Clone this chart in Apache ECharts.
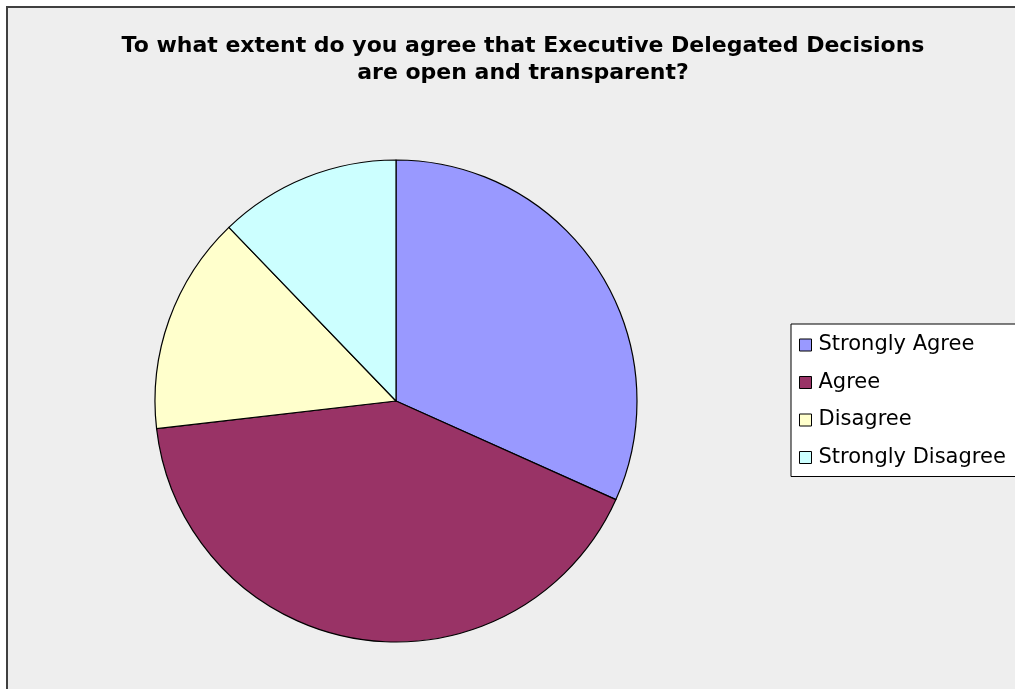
<!DOCTYPE html>
<html>
<head>
<meta charset="utf-8">
<script src="https://cdn.jsdelivr.net/npm/echarts@6/dist/echarts.min.js"></script>
<style>
  html, body { margin: 0; padding: 0; background: #ffffff; }
  #chart { width: 1015px; height: 689px; }
</style>
</head>
<body>
<div id="chart"></div>
<script>
// Survey responses
const categories = ['Strongly Agree', 'Agree', 'Disagree', 'Strongly Disagree'];
const counts = [26, 34, 12, 10];
const sliceColors = ['#9999FF', '#993366', '#FFFFCC', '#CCFFFF'];
const titleText = 'To what extent do you agree that Executive Delegated Decisions\nare open and transparent?';

const chart = echarts.init(document.getElementById('chart'), null, { renderer: 'canvas' });

chart.setOption({
  animation: false,
  backgroundColor: '#ffffff',
  graphic: [
    {
      // chart area panel
      type: 'rect',
      z: -10,
      shape: { x: 7, y: 7, width: 1020, height: 700 },
      style: { fill: '#eeeeee', stroke: '#404040', lineWidth: 2 }
    }
  ],
  title: {
    text: titleText,
    left: 518,
    textAlign: 'center',
    top: 28,
    textStyle: {
      fontFamily: 'DejaVu Sans, Arial, sans-serif',
      fontWeight: 'bold',
      fontSize: 22,
      color: '#000000',
      lineHeight: 27
    }
  },
  legend: {
    orient: 'vertical',
    left: 791,
    top: 324,
    width: 240,
    padding: [10, 40, 8, 8],
    backgroundColor: '#ffffff',
    borderColor: '#000000',
    borderWidth: 1,
    borderRadius: 0,
    itemWidth: 12,
    itemHeight: 12,
    itemGap: 15.5,
    icon: 'rect',
    textStyle: {
      fontFamily: 'DejaVu Sans, Arial, sans-serif',
      fontSize: 21,
      lineHeight: 22,
      color: '#000000',
      padding: [0, 0, 0, 2]
    },
    itemStyle: { borderColor: '#000000', borderWidth: 1 },
    data: categories
  },
  series: [
    {
      type: 'pie',
      center: [396, 401],
      radius: 241,
      startAngle: 90,
      clockwise: true,
      label: { show: false },
      labelLine: { show: false },
      emphasis: { disabled: true },
      itemStyle: { borderColor: '#000000', borderWidth: 1.2 },
      data: categories.map((name, i) => ({
        name: name,
        value: counts[i],
        itemStyle: { color: sliceColors[i] }
      }))
    }
  ]
});
</script>
</body>
</html>
